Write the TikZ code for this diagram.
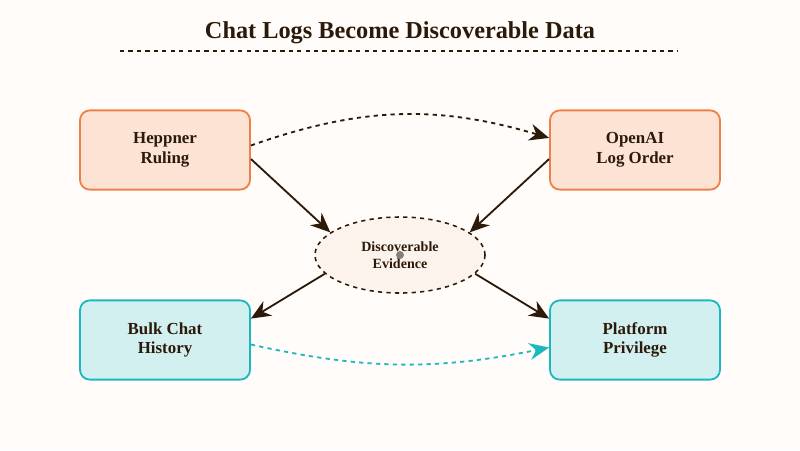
\documentclass[tikz,border=0pt]{standalone}
\usepackage{fontspec}
\setmainfont{Liberation Serif}
\usetikzlibrary{arrows.meta,shapes.geometric}
\definecolor{ink}{HTML}{2B1A0A}
\definecolor{paper}{HTML}{FFFCFA}
\definecolor{orangeline}{HTML}{F0804A}
\definecolor{orangefill}{HTML}{FDE3D4}
\definecolor{tealline}{HTML}{1CB8C0}
\definecolor{tealfill}{HTML}{D2F0F0}
\definecolor{evfill}{HTML}{FCF3EC}
\tikzset{
	warmstyle/.style={rectangle, rounded corners=7pt, draw=orangeline, fill=orangefill, line width=1.3pt, minimum width=4.25cm, minimum height=1.98cm, align=center, font=\bfseries\large, text=ink},
	coolstyle/.style={warmstyle, draw=tealline, fill=tealfill},
	flow/.style={-{Stealth[length=14pt,width=12pt]}, draw=ink, line width=1.3pt}
}

\begin{document}
\begin{tikzpicture}[x=0.025cm, y=-0.025cm]
\fill[paper] (0,0) rectangle (800,450);
\useasboundingbox (0,0) rectangle (800,450);

\node[font=\bfseries\LARGE, text=ink] (title) at (400,33) {Chat Logs Become Discoverable Data};
\draw[dashed, draw=ink, line width=0.8pt] (120,51) -- (678,51);

\node[warmstyle] (heppner) at (165,150) {Heppner\\Ruling};
\node[warmstyle] (openai) at (635,150) {OpenAI\\Log Order};
\node[coolstyle] (bulk) at (165,340) {Bulk Chat\\History};
\node[coolstyle] (platform) at (635,340) {Platform\\Privilege};

\node[ellipse, draw=ink, dashed, fill=evfill, line width=1.1pt, minimum width=4.25cm, minimum height=1.9cm, align=center, font=\bfseries, text=ink] (ev) at (400,255) {Discoverable\\Evidence};
\fill[gray] (ev.center) circle (4);

\draw[flow] (heppner.-6) -- (ev.162);
\draw[flow] (openai.-174) -- (ev.18);
\draw[flow] (ev.194) -- (bulk.14);
\draw[flow] (ev.-14) -- (platform.166);

\draw[flow, dashed] (heppner.3) to[bend left=18] (openai.172);
\draw[flow, dashed, draw=tealline] (bulk.-3) to[bend right=12] (platform.185);
\end{tikzpicture}
\end{document}
